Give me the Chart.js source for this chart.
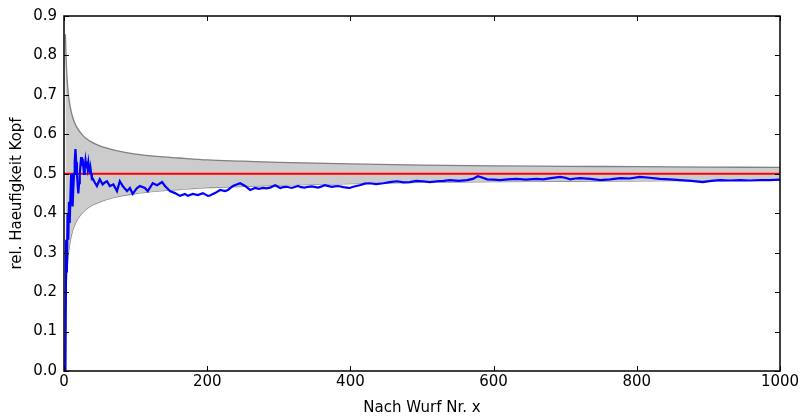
<!DOCTYPE html>
<html>
<head>
<meta charset="utf-8">
<script src="https://cdn.jsdelivr.net/npm/chart.js@4/dist/chart.umd.min.js"></script>
<style>
  body { margin: 0; background: #fff; }
  #wrap { width: 809px; height: 417px; }
</style>
</head>
<body>
<div id="wrap"><canvas id="chart" width="809" height="417"></canvas></div>
<script>
// relative frequency of heads after throw number x
const throwNo = [
    1, 2, 3, 4, 5, 6, 7, 8, 9, 10,
    11, 12, 13, 14, 15, 16, 17, 18, 19, 20,
    21, 22, 23, 24, 25, 26, 27, 28, 29, 30,
    31, 32, 33, 34, 35, 36, 37, 38, 39,
    40, 43, 46, 50, 54, 57, 60, 64, 69, 74,
    78, 82, 88, 92, 96, 102, 106, 113, 117, 124,
    130, 137, 141, 148, 155, 162, 169, 173, 180, 187,
    194, 201, 204, 208, 211, 218, 225, 229, 236, 246,
    253, 260, 267, 272, 278, 283, 288, 295, 302, 306,
    311, 318, 327, 331, 336, 341, 346, 355, 360, 364,
    374, 378, 383, 390, 395, 399,
    404, 413, 420, 427, 436, 446, 455, 465,
    474, 483, 492, 501, 511, 521, 530, 539, 551, 563,
    571, 578, 585, 591, 600, 609, 620, 632, 645, 660,
    669, 680, 693, 700, 707, 714, 721, 735, 749, 763,
    777, 790, 804, 818, 832, 846, 860, 876, 892, 904,
    916, 930, 944, 958, 972, 985, 1000
];
const headRate = [
    0, 0, 0.333, 0.25, 0.4, 0.333, 0.429, 0.375, 0.444, 0.5,
    0.455, 0.417, 0.462, 0.5, 0.533, 0.5625, 0.529, 0.5, 0.474, 0.45,
    0.476, 0.5, 0.522, 0.542, 0.52, 0.538, 0.519, 0.5, 0.517, 0.533,
    0.516, 0.531, 0.515, 0.529, 0.514, 0.5, 0.514, 0.5, 0.487,
    0.488, 0.478, 0.469, 0.486, 0.473, 0.478, 0.481, 0.469, 0.473, 0.456,
    0.481, 0.469, 0.456, 0.464, 0.449, 0.464, 0.469, 0.464, 0.456, 0.476,
    0.471, 0.479, 0.469, 0.456, 0.451, 0.444, 0.449, 0.444, 0.449, 0.446,
    0.451, 0.444, 0.445, 0.449, 0.451, 0.459, 0.456, 0.459, 0.469, 0.476,
    0.469, 0.459, 0.464, 0.462, 0.464, 0.463, 0.465, 0.471, 0.464, 0.466,
    0.467, 0.464, 0.469, 0.466, 0.465, 0.467, 0.468, 0.465, 0.468, 0.471,
    0.467, 0.468, 0.469, 0.466, 0.465, 0.464,
    0.467, 0.471, 0.475, 0.476, 0.474, 0.476, 0.479, 0.481,
    0.478, 0.479, 0.482, 0.481, 0.479, 0.481, 0.482, 0.484, 0.482, 0.484,
    0.487, 0.494, 0.49, 0.486, 0.485, 0.484, 0.486, 0.487, 0.485, 0.487,
    0.486, 0.489, 0.492, 0.49, 0.486, 0.488, 0.489, 0.487, 0.484, 0.486,
    0.489, 0.488, 0.492, 0.49, 0.487, 0.486, 0.484, 0.482, 0.479, 0.482,
    0.484, 0.483, 0.484, 0.483, 0.484, 0.484, 0.485
];

// grey band edges, read at these throw numbers
const bandX = [2, 3, 4, 5, 6, 7, 8, 10, 12, 15, 20, 25, 30, 40, 50, 60, 80, 100,
    130, 160, 200, 250, 300, 400, 500, 600, 700, 800, 900, 1000];
const bandUpper = [0.854, 0.789, 0.75, 0.724, 0.704, 0.689, 0.677, 0.658, 0.644, 0.629,
    0.612, 0.6, 0.591, 0.579, 0.571, 0.565, 0.556, 0.55, 0.544, 0.54,
    0.535, 0.532, 0.529, 0.525, 0.522, 0.52, 0.519, 0.518, 0.517, 0.516];
const bandLower = [0.146, 0.211, 0.25, 0.276, 0.296, 0.311, 0.323, 0.342, 0.356, 0.371,
    0.388, 0.4, 0.409, 0.421, 0.429, 0.435, 0.444, 0.45, 0.456, 0.46,
    0.465, 0.468, 0.471, 0.475, 0.478, 0.48, 0.481, 0.482, 0.483, 0.484];

const expectedX = [0, 1000];
const expectedY = [0.5, 0.5];

const xTicks = [0, 200, 400, 600, 800, 1000];
const yTicks = [0, 0.1, 0.2, 0.3, 0.4, 0.5, 0.6, 0.7, 0.8, 0.9];

const pts = (xs, ys) => xs.map((x, i) => ({ x: x, y: ys[i] }));

// matplotlib-style frame with inward ticks on all four sides
const frameTicks = {
    id: 'frameTicks',
    afterDraw(chart) {
        const { ctx, chartArea: a, scales: { x, y } } = chart;
        ctx.save();
        ctx.strokeStyle = '#000';
        ctx.lineWidth = 1;
        ctx.beginPath();
        xTicks.forEach(v => {
            const px = Math.round(x.getPixelForValue(v)) + 0.5;
            ctx.moveTo(px, a.bottom); ctx.lineTo(px, a.bottom - 5);
            ctx.moveTo(px, a.top); ctx.lineTo(px, a.top + 5);
        });
        yTicks.forEach(v => {
            const py = Math.round(y.getPixelForValue(v)) + 0.5;
            ctx.moveTo(a.left, py); ctx.lineTo(a.left + 5, py);
            ctx.moveTo(a.right, py); ctx.lineTo(a.right - 5, py);
        });
        ctx.stroke();
        ctx.lineWidth = 1.5;
        ctx.strokeRect(a.left, a.top, a.right - a.left, a.bottom - a.top);
        ctx.restore();
    }
};

Chart.defaults.font.family = '"DejaVu Sans", sans-serif';
Chart.defaults.font.size = 15;
Chart.defaults.color = '#000';

new Chart(document.getElementById('chart'), {
    type: 'scatter',
    data: {
        datasets: [
            {
                label: 'lower',
                data: pts(bandX, bandLower),
                showLine: true,
                borderColor: '#808080',
                borderWidth: 1.3,
                pointRadius: 0,
                fill: false,
                cubicInterpolationMode: 'monotone',
                order: 4
            },
            {
                label: 'upper',
                data: pts(bandX, bandUpper),
                showLine: true,
                borderColor: '#808080',
                borderWidth: 1.3,
                backgroundColor: '#cccccc',
                pointRadius: 0,
                fill: '-1',
                cubicInterpolationMode: 'monotone',
                order: 3
            },
            {
                label: 'p = 0.5',
                data: pts(expectedX, expectedY),
                showLine: true,
                borderColor: '#ff0000',
                borderWidth: 2,
                pointRadius: 0,
                order: 1
            },
            {
                label: 'Kopf',
                data: pts(throwNo, headRate),
                showLine: true,
                borderColor: '#0000ff',
                borderWidth: 2.2,
                pointRadius: 0,
                tension: 0,
                order: 0
            }
        ]
    },
    options: {
        responsive: false,
        animation: false,
        devicePixelRatio: 1,
        layout: { padding: { top: 14, right: 29, bottom: 0, left: 0 } },
        plugins: {
            legend: { display: false },
            tooltip: { enabled: false }
        },
        scales: {
            x: {
                type: 'linear',
                min: 0,
                max: 1000,
                grid: { display: false, drawTicks: false, tickLength: 0 },
                border: { display: false },
                afterBuildTicks: (s) => { s.ticks = xTicks.map(v => ({ value: v })); },
                ticks: { padding: 2, maxRotation: 0, callback: (v) => String(v) },
                afterFit: (s) => { s.height = 46; },
                title: {
                    display: true,
                    text: 'Nach Wurf Nr. x',
                    font: { size: 15, lineHeight: 1 },
                    padding: { top: 0, bottom: 1 }
                }
            },
            y: {
                min: 0,
                max: 0.9,
                grid: { display: false, drawTicks: false, tickLength: 0 },
                border: { display: false },
                afterBuildTicks: (s) => { s.ticks = yTicks.map(v => ({ value: v })); },
                ticks: { padding: 7, callback: (v) => v.toFixed(1) },
                afterFit: (s) => { s.width = 64; },
                title: {
                    display: true,
                    text: 'rel. Haeufigkeit Kopf',
                    font: { size: 15, lineHeight: 1 },
                    padding: { top: 10, bottom: 0 }
                }
            }
        }
    },
    plugins: [frameTicks]
});
</script>
</body>
</html>
